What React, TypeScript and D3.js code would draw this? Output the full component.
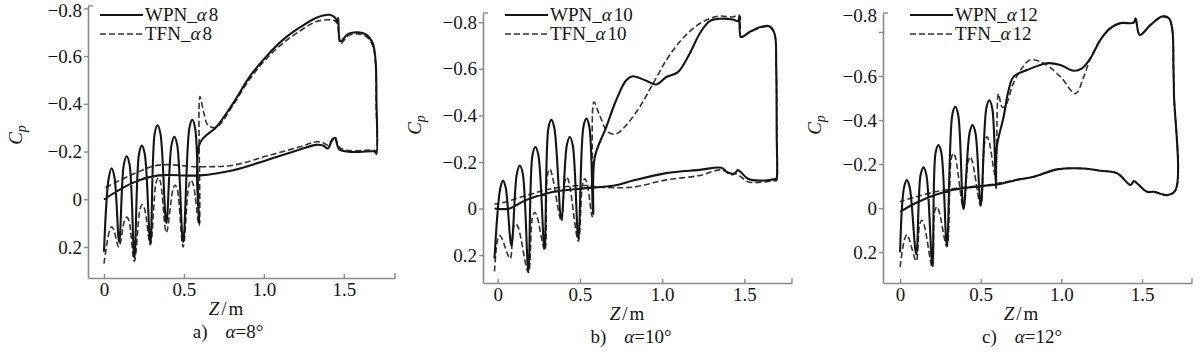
import * as d3 from 'd3';
import { useEffect, useRef } from 'react';

const FONT = '"Liberation Serif", "Times New Roman", serif';
const AXIS = '#8a8a8a';
const INK = '#151515';

type Pt = [number, number];

// axis ticks (shared by all three panels)
const zTicks = [0, 0.5, 1.0, 1.5];
const zTickLabels = ['0', '0.5', '1.0', '1.5'];
const cpTicks = [-0.8, -0.6, -0.4, -0.2, 0, 0.2];
const cpTickLabels = ['−0.8', '−0.6', '−0.4', '−0.2', '0', '0.2'];

const angles = [8, 10, 12];
const captionLetters = ['a)', 'b)', 'c)'];

// [Z (m), Cp]
const wpn8: Pt[] = [
  [0.0, 0.22], [0.03, -0.09], [0.048, -0.13], [0.066, -0.09], [0.095, 0.18],
  [0.124, -0.145], [0.142, -0.18], [0.16, -0.145], [0.19, 0.245],
  [0.219, -0.19], [0.237, -0.225], [0.255, -0.19], [0.29, 0.185],
  [0.317, -0.275], [0.335, -0.31], [0.353, -0.275], [0.39, 0.1],
  [0.422, -0.227], [0.44, -0.262], [0.458, -0.227], [0.495, 0.18],
  [0.534, -0.298], [0.552, -0.333], [0.57, -0.298], [0.595, 0.1],
  [0.6, -0.235], [0.704, -0.304], [0.808, -0.403], [0.9125, -0.515], [1.017, -0.6],
  [1.121, -0.669], [1.225, -0.72], [1.329, -0.761], [1.41, -0.773], [1.444, -0.762],
  [1.458, -0.745], [1.464, -0.76], [1.479, -0.662], [1.527, -0.693], [1.59, -0.7],
  [1.64, -0.69], [1.68, -0.655], [1.698, -0.585], [1.704, -0.417], [1.704, -0.19],
  [1.694, -0.2], [1.6, -0.198], [1.517, -0.2], [1.47, -0.21], [1.444, -0.258],
  [1.425, -0.245], [1.4, -0.213], [1.37, -0.225], [1.329, -0.228], [1.225, -0.209],
  [1.017, -0.164], [0.808, -0.122], [0.6, -0.1], [0.34, -0.1], [0.194, -0.073],
  [0.0, 0.0],
];

const tfn8: Pt[] = [
  [0.0, 0.27], [0.035, 0.13], [0.048, 0.115], [0.062, 0.13], [0.093, 0.2],
  [0.128, 0.09], [0.142, 0.075], [0.156, 0.09], [0.19, 0.26],
  [0.226, 0.04], [0.24, 0.022], [0.254, 0.04], [0.29, 0.19],
  [0.326, -0.07], [0.34, -0.09], [0.354, -0.07], [0.39, 0.14],
  [0.431, -0.04], [0.445, -0.06], [0.459, -0.04], [0.495, 0.2],
  [0.531, -0.06], [0.545, -0.08], [0.559, -0.06], [0.595, 0.11],
  [0.6, -0.43], [0.625, -0.36], [0.65, -0.31], [0.69, -0.3], [0.72, -0.31],
  [0.808, -0.395], [0.9125, -0.505], [1.017, -0.59], [1.121, -0.655], [1.225, -0.705],
  [1.329, -0.745], [1.41, -0.752], [1.45, -0.745], [1.462, -0.73], [1.479, -0.652],
  [1.527, -0.685], [1.59, -0.693], [1.64, -0.682], [1.68, -0.645], [1.698, -0.575],
  [1.702, -0.4], [1.702, -0.2], [1.69, -0.205], [1.517, -0.205], [1.47, -0.22],
  [1.444, -0.262], [1.425, -0.25], [1.4, -0.227], [1.37, -0.237], [1.329, -0.241],
  [1.225, -0.22], [1.017, -0.181], [0.808, -0.143], [0.6, -0.136], [0.34, -0.143],
  [0.194, -0.109], [0.0, -0.046],
];

const wpn10: Pt[] = [
  [-0.02, 0.215], [0.016, -0.09], [0.032, -0.12], [0.048, -0.09], [0.083, 0.16],
  [0.116, -0.15], [0.134, -0.185], [0.152, -0.15], [0.186, 0.27],
  [0.211, -0.229], [0.229, -0.264], [0.247, -0.229], [0.284, 0.17],
  [0.308, -0.346], [0.326, -0.381], [0.344, -0.346], [0.387, 0.045],
  [0.42, -0.272], [0.438, -0.307], [0.456, -0.272], [0.49, 0.13],
  [0.521, -0.351], [0.539, -0.386], [0.557, -0.351], [0.58, 0.025],
  [0.59, -0.22], [0.66, -0.35], [0.72, -0.465], [0.78, -0.55], [0.82, -0.568],
  [0.9, -0.55], [0.965, -0.533], [1.025, -0.565], [1.096, -0.586], [1.167, -0.665],
  [1.228, -0.751], [1.289, -0.805], [1.35, -0.815], [1.43, -0.812], [1.462, -0.805],
  [1.47, -0.826], [1.48, -0.737], [1.53, -0.758], [1.6, -0.78], [1.653, -0.783],
  [1.684, -0.751], [1.694, -0.608], [1.697, -0.32], [1.697, -0.13], [1.694, -0.128],
  [1.593, -0.12], [1.522, -0.128], [1.48, -0.155], [1.46, -0.165], [1.44, -0.15],
  [1.4, -0.155], [1.36, -0.175], [1.228, -0.166], [1.025, -0.152], [0.823, -0.12],
  [0.71, -0.099], [0.5, -0.085], [0.326, -0.07], [0.164, -0.034], [0.073, 0.0],
  [-0.02, 0.0],
];

const tfn10: Pt[] = [
  [-0.02, 0.27], [0.0, 0.13], [0.012, 0.116], [0.026, 0.13], [0.075, 0.215],
  [0.096, 0.08], [0.11, 0.066], [0.124, 0.08], [0.186, 0.275],
  [0.211, 0.035], [0.225, 0.016], [0.239, 0.035], [0.286, 0.18],
  [0.302, -0.145], [0.316, -0.17], [0.33, -0.145], [0.387, 0.055],
  [0.406, -0.11], [0.42, -0.135], [0.434, -0.11], [0.49, 0.14],
  [0.516, -0.105], [0.53, -0.128], [0.544, -0.105], [0.575, 0.035],
  [0.585, -0.457], [0.62, -0.4], [0.67, -0.328], [0.72, -0.321], [0.78, -0.357],
  [0.863, -0.436], [0.944, -0.536], [1.025, -0.637], [1.106, -0.715], [1.187, -0.773],
  [1.269, -0.81], [1.35, -0.827], [1.43, -0.823], [1.47, -0.83], [1.48, -0.737],
  [1.53, -0.755], [1.6, -0.778], [1.653, -0.78], [1.684, -0.748], [1.694, -0.6],
  [1.697, -0.32], [1.697, -0.12], [1.694, -0.12], [1.53, -0.113], [1.49, -0.13],
  [1.45, -0.149], [1.42, -0.145], [1.36, -0.166], [1.228, -0.142], [1.025, -0.123],
  [0.823, -0.092], [0.62, -0.092], [0.53, -0.099], [0.326, -0.085], [0.0, -0.02],
  [-0.02, -0.02],
];

const wpn12: Pt[] = [
  [0.0, 0.2], [0.024, -0.092], [0.042, -0.127], [0.06, -0.092], [0.1, 0.21],
  [0.127, -0.15], [0.145, -0.185], [0.163, -0.15], [0.2, 0.26],
  [0.22, -0.251], [0.238, -0.286], [0.256, -0.251], [0.29, 0.17],
  [0.324, -0.425], [0.342, -0.46], [0.36, -0.425], [0.393, 0.005],
  [0.431, -0.342], [0.449, -0.377], [0.467, -0.342], [0.5, -0.014],
  [0.535, -0.455], [0.553, -0.49], [0.571, -0.455], [0.595, -0.09],
  [0.6, -0.279], [0.642, -0.415], [0.673, -0.536], [0.704, -0.597], [0.787, -0.627],
  [0.911, -0.658], [0.994, -0.65], [1.076, -0.624], [1.128, -0.635], [1.18, -0.68],
  [1.242, -0.764], [1.304, -0.817], [1.366, -0.84], [1.449, -0.842], [1.46, -0.862],
  [1.486, -0.786], [1.553, -0.832], [1.625, -0.87], [1.667, -0.862], [1.688, -0.81],
  [1.695, -0.642], [1.698, -0.52], [1.708, -0.082], [1.657, -0.059], [1.574, -0.074],
  [1.532, -0.074], [1.47, -0.112], [1.449, -0.123], [1.43, -0.105], [1.346, -0.158],
  [1.242, -0.17], [1.139, -0.18], [0.973, -0.176], [0.828, -0.142], [0.714, -0.127],
  [0.621, -0.11], [0.321, -0.082], [0.114, -0.029], [0.0, 0.017],
];

const tfn12: Pt[] = [
  [0.0, 0.267], [0.028, 0.14], [0.042, 0.12], [0.056, 0.14], [0.1, 0.24],
  [0.121, 0.075], [0.135, 0.055], [0.149, 0.075], [0.2, 0.27],
  [0.214, 0.015], [0.228, -0.006], [0.242, 0.015], [0.29, 0.175],
  [0.317, -0.224], [0.331, -0.249], [0.345, -0.224], [0.393, 0.0],
  [0.421, -0.208], [0.435, -0.233], [0.449, -0.208], [0.5, -0.01],
  [0.525, -0.299], [0.539, -0.324], [0.553, -0.299], [0.59, -0.15],
  [0.61, -0.52], [0.632, -0.46], [0.65, -0.46], [0.704, -0.57], [0.76, -0.64],
  [0.807, -0.673], [0.89, -0.658], [0.994, -0.597], [1.087, -0.52], [1.139, -0.597],
  [1.18, -0.68], [1.242, -0.764], [1.304, -0.817], [1.366, -0.84], [1.449, -0.842],
  [1.46, -0.862], [1.486, -0.786], [1.553, -0.832], [1.625, -0.87], [1.667, -0.862],
  [1.688, -0.81], [1.695, -0.642], [1.698, -0.52], [1.708, -0.08], [1.657, -0.06],
  [1.574, -0.074], [1.532, -0.074], [1.47, -0.112], [1.449, -0.123], [1.43, -0.105],
  [1.346, -0.158], [1.242, -0.17], [1.139, -0.18], [0.973, -0.176], [0.828, -0.142],
  [0.714, -0.127], [0.5, -0.1], [0.424, -0.097], [0.217, -0.074], [0.0, -0.03],
];

const wpnSeries = [wpn8, wpn10, wpn12];
const tfnSeries = [tfn8, tfn10, tfn12];

interface PanelLayout {
  left: number;
  right: number;
  top: number;
  bottom: number;
  zDomain: [number, number];
  cpDomain: [number, number];
  legendX: number;
  cpLabelX: number;
  cpLabelY: number;
  zLabelX: number;
  captionX: number;
  topLabelShift: number;
}

const layouts: PanelLayout[] = [
  {
    left: 88, right: 395, top: 6, bottom: 278,
    zDomain: [-0.1, 1.82], cpDomain: [-0.81, 0.33],
    legendX: 100, cpLabelX: 22, cpLabelY: 135, zLabelX: 227, captionX: 228, topLabelShift: 2,
  },
  {
    left: 483, right: 792, top: 13, bottom: 283,
    zDomain: [-0.09, 1.79], cpDomain: [-0.84, 0.32],
    legendX: 505, cpLabelX: 421, cpLabelY: 125, zLabelX: 628, captionX: 631, topLabelShift: 0,
  },
  {
    left: 883, right: 1192, top: 13, bottom: 283,
    zDomain: [-0.106, 1.81], cpDomain: [-0.886, 0.34],
    legendX: 910, cpLabelX: 821, cpLabelY: 125, zLabelX: 1022, captionX: 1022, topLabelShift: -17,
  },
];

function Panel({ idx }: { idx: number }) {
  const L = layouts[idx];
  const xRef = useRef<SVGGElement>(null);
  const yRef = useRef<SVGGElement>(null);

  const x = d3.scaleLinear().domain(L.zDomain).range([L.left, L.right]);
  const y = d3.scaleLinear().domain(L.cpDomain).range([L.top, L.bottom]);
  const line = d3
    .line<Pt>()
    .x((d) => x(d[0]))
    .y((d) => y(d[1]))
    .curve(d3.curveCatmullRom.alpha(0.5));

  useEffect(() => {
    const gx = d3.select(xRef.current!);
    gx.selectAll('*').remove();
    gx.call(
      d3
        .axisBottom(x)
        .tickValues(zTicks)
        .tickFormat((_, i) => zTickLabels[i])
        .tickSize(-4)
        .tickSizeOuter(0)
        .tickPadding(5)
    );
    const gy = d3.select(yRef.current!);
    gy.selectAll('*').remove();
    gy.call(
      d3
        .axisLeft(y)
        .tickValues(cpTicks)
        .tickFormat((_, i) => cpTickLabels[i])
        .tickSize(4)
        .tickSizeOuter(0)
        .tickPadding(2)
    );
    [gx, gy].forEach((g) => {
      g.attr('font-family', FONT).attr('font-size', 19);
      g.select('.domain').attr('stroke', AXIS).attr('stroke-width', 1.6);
      g.selectAll('.tick line').attr('stroke', AXIS).attr('stroke-width', 1.4);
      g.selectAll('.tick text').attr('fill', INK);
    });
    // the top label sits where the original figure put it
    gy.selectAll<SVGGElement, number>('.tick')
      .filter((d) => d === cpTicks[0])
      .select('text')
      .attr('y', L.topLabelShift);
  }, []);

  const base = L.bottom;

  return (
    <g>
      <g ref={xRef} transform={`translate(0,${L.bottom})`} />
      <g ref={yRef} transform={`translate(${L.left},0)`} />
      {/* end caps of the frame */}
      <line x1={L.left} x2={L.left + 5} y1={L.top} y2={L.top} stroke={AXIS} strokeWidth={1.4} />
      <line x1={L.right} x2={L.right} y1={L.bottom} y2={L.bottom - 5} stroke={AXIS} strokeWidth={1.4} />

      <path d={line(tfnSeries[idx]) ?? ''} fill="none" stroke="#333" strokeWidth={1.6} strokeDasharray="6 3" />
      <path d={line(wpnSeries[idx]) ?? ''} fill="none" stroke={INK} strokeWidth={2.1} strokeLinejoin="round" />

      {/* legend */}
      <g fontFamily={FONT} fontSize={19} fill={INK}>
        <line x1={L.legendX} x2={L.legendX + 43} y1={15} y2={15} stroke={INK} strokeWidth={2} />
        <text x={L.legendX + 45} y={21}>
          WPN_<tspan fontStyle="italic">α</tspan>
          <tspan dx={2}>{angles[idx]}</tspan>
        </text>
        <line x1={L.legendX} x2={L.legendX + 43} y1={34} y2={34} stroke="#333" strokeWidth={1.6} strokeDasharray="6 3" />
        <text x={L.legendX + 45} y={40}>
          TFN_<tspan fontStyle="italic">α</tspan>
          <tspan dx={2}>{angles[idx]}</tspan>
        </text>
      </g>

      <g fontFamily={FONT} fontSize={19} fill={INK}>
        <text transform={`translate(${L.cpLabelX},${L.cpLabelY}) rotate(-90)`} textAnchor="middle" fontStyle="italic">
          C<tspan fontSize={14} dy={4}>p</tspan>
        </text>
        <text x={L.zLabelX} y={base + 37} textAnchor="middle" letterSpacing={2}>
          <tspan fontStyle="italic">Z</tspan>/m
        </text>
        <text x={L.captionX} y={base + 60} textAnchor="middle">
          {captionLetters[idx]}
          <tspan dx={18} fontStyle="italic">α</tspan>={angles[idx]}°
        </text>
      </g>
    </g>
  );
}

export default function App() {
  return (
    <svg
      width={1200}
      height={356}
      style={{ position: 'absolute', left: 0, top: 0, background: '#fff' }}
    >
      <rect width={1200} height={356} fill="#fff" />
      {layouts.map((_, i) => (
        <Panel key={i} idx={i} />
      ))}
    </svg>
  );
}
